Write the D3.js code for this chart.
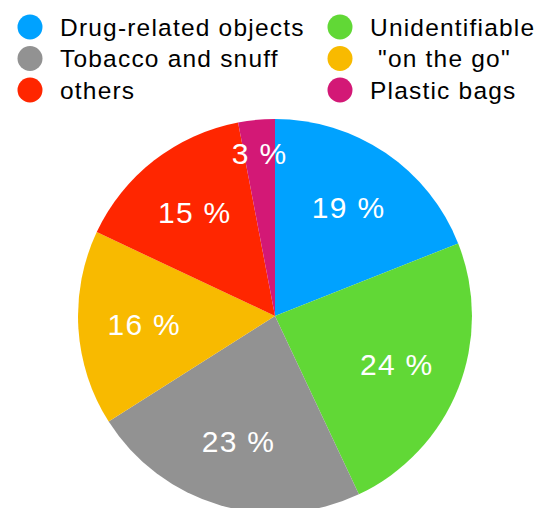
<!DOCTYPE html>
<html>
<head>
<meta charset="utf-8">
<script src="https://cdn.jsdelivr.net/npm/d3@7"></script>
<style>
  body { margin: 0; background: #fff; }
  text { font-family: "Liberation Sans", Arial, Helvetica, sans-serif; }
</style>
</head>
<body>
<div id="chart"></div>
<script>
const categories = ["Drug-related objects", "Unidentifiable", "Tobacco and snuff", " \"on the go\"", "others", "Plastic bags"];
const values = [19, 24, 23, 16, 15, 3];
const colors = ["#00A2FF", "#61D836", "#929292", "#F8BA00", "#FF2600", "#D31876"];

const w = 549;
const h = 508;
const cx = 275;
const cy = 316;
const r = 197;

const svg = d3.select("#chart")
              .append("svg")
              .attr("width", w)
              .attr("height", h);

const color = d3.scaleOrdinal().domain(categories).range(colors);

// legend, two columns
const colX = [30, 340];
const legend = svg.selectAll(".legend")
                  .data(categories)
                  .enter()
                  .append("g")
                  .attr("class", "legend")
                  .attr("transform", (d, i) => "translate(" + colX[i % 2] + ", " + (27 + Math.floor(i / 2) * 31.5) + ")");

legend.append("circle")
      .attr("r", 12.5)
      .attr("fill", (d) => color(d));

legend.append("text")
      .attr("x", 30)
      .attr("dy", "0.36em")
      .attr("font-size", 24.5)
      .attr("letter-spacing", 1.2)
      .attr("fill", "#000")
      .style("white-space", "pre")
      .text((d) => d);

// pie
const pie = d3.pie().sort(null).value((d) => d.value);
const data = categories.map((c, i) => ({ name: c, value: values[i] }));
const arc = d3.arc().innerRadius(0).outerRadius(r);

const g = svg.append("g").attr("transform", "translate(" + cx + ", " + cy + ")");

g.selectAll("path")
 .data(pie(data))
 .enter()
 .append("path")
 .attr("d", arc)
 .attr("fill", (d) => color(d.data.name));

g.selectAll(".label")
 .data(pie(data))
 .enter()
 .append("text")
 .attr("class", "label")
 .attr("transform", (d) => {
   const lr = d.data.value < 5 ? r * 0.83 : r * 0.665;
   const c = d3.arc().innerRadius(lr).outerRadius(lr).centroid(d);
   return "translate(" + c[0] + ", " + c[1] + ")";
 })
 .attr("text-anchor", "middle")
 .attr("dy", "0.35em")
 .attr("font-size", 30)
 .attr("letter-spacing", 1.3)
 .attr("fill", "#fff")
 .text((d) => d.data.value + " %");
</script>
</body>
</html>
